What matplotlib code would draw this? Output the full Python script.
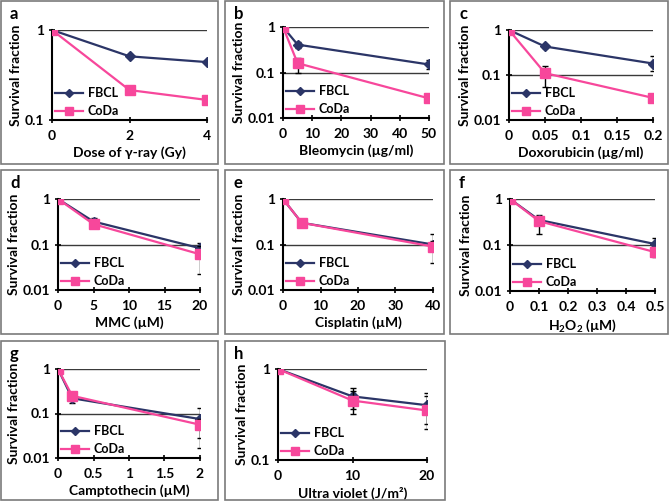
import matplotlib
matplotlib.use("Agg")
import matplotlib.pyplot as plt
from matplotlib.patches import Rectangle
from matplotlib.lines import Line2D
from matplotlib.ticker import FuncFormatter, FixedLocator, NullLocator

plt.rcParams['font.family'] = ['Lato', 'DejaVu Sans']
plt.rcParams['font.weight'] = 'bold'
plt.rcParams['mathtext.fontset'] = 'custom'
plt.rcParams['mathtext.rm'] = 'Lato:bold'
plt.rcParams['mathtext.bf'] = 'Lato:bold'

NAVY = '#2b3567'
PINK = '#f7479b'

# data: x doses, survival fractions, error bars (lower, upper)
panel_labels = ['a', 'b', 'c', 'd', 'e', 'f', 'g', 'h']
xlabels = ['Dose of γ-ray (Gy)', 'Bleomycin (µg/ml)', 'Doxorubicin (µg/ml)',
           'MMC (µM)', 'Cisplatin (µM)', r'H$_{2}$O$_{2}$ (µM)',
           'Camptothecin (µM)', 'Ultra violet (J/m²)']

doses = [[0, 2, 4], [0, 5, 50], [0, 0.05, 0.2], [0, 5, 20],
         [0, 5, 40], [0, 0.1, 0.5], [0, 0.2, 2], [0, 10, 20]]
xticks = [[0, 2, 4], [0, 10, 20, 30, 40, 50], [0, 0.05, 0.1, 0.15, 0.2],
          [0, 5, 10, 15, 20], [0, 10, 20, 30, 40], [0, 0.1, 0.2, 0.3, 0.4, 0.5],
          [0, 0.5, 1, 1.5, 2], [0, 10, 20]]
ylow = [0.1, 0.01, 0.01, 0.01, 0.01, 0.01, 0.01, 0.1]

fbcl = [[1, 0.51, 0.44], [1, 0.41, 0.15], [1, 0.43, 0.18], [1, 0.32, 0.083],
        [1, 0.30, 0.10], [1, 0.35, 0.105], [1, 0.22, 0.075], [1, 0.50, 0.40]]
fbcl_err_lo = [[0, 0, 0], [0, 0.06, 0.03], [0, 0.04, 0.06], [0, 0.07, 0.015],
               [0, 0.03, 0.02], [0, 0.08, 0.02], [0, 0.05, 0.047], [0, 0.14, 0.15]]
fbcl_err_hi = [[0, 0, 0], [0, 0.06, 0.04], [0, 0.04, 0.08], [0, 0.06, 0.025],
               [0, 0.03, 0.07], [0, 0.10, 0.04], [0, 0.05, 0.055], [0, 0.12, 0.15]]

coda = [[1, 0.215, 0.167], [1, 0.16, 0.027], [1, 0.11, 0.031], [1, 0.28, 0.061],
        [1, 0.30, 0.09], [1, 0.33, 0.07], [1, 0.25, 0.056], [1, 0.45, 0.35]]
coda_err_lo = [[0, 0, 0], [0, 0.06, 0.005], [0, 0.055, 0], [0, 0.04, 0.038],
               [0, 0.02, 0.05], [0, 0.16, 0.015], [0, 0.03, 0.039], [0, 0.13, 0.13]]
coda_err_hi = [[0, 0, 0], [0, 0.05, 0.005], [0, 0.05, 0], [0, 0.05, 0.03],
               [0, 0.02, 0.03], [0, 0.06, 0.01], [0, 0.03, 0.02], [0, 0.12, 0.15]]

W, H = 670, 501
# axes boxes in pixels: left, top, right, bottom
axes_px = [(52, 30, 207, 120), (283, 27, 429, 118), (509, 30, 653, 120),
           (58, 199, 200, 290), (283, 199, 433, 290), (510, 199, 655, 291),
           (58, 369, 200, 458), (278, 369, 427, 460)]
# panel frames in pixels: left, top, right, bottom
frames_px = [(1, 1, 218, 164), (225, 1, 444, 164), (450, 1, 668, 164),
             (1, 170, 218, 334), (225, 170, 444, 334), (450, 170, 668, 334),
             (1, 341, 218, 500), (225, 341, 445, 500)]

fig = plt.figure(figsize=(W / 100, H / 100), dpi=100)

leg_handles = [Line2D([], [], color=NAVY, marker='D', markersize=4.5, lw=1.6),
               Line2D([], [], color=PINK, marker='s', markersize=6, lw=1.6)]

for i in range(8):
    l, t, r, b = frames_px[i]
    fig.patches.append(Rectangle((l / W, 1 - b / H), (r - l) / W, (b - t) / H,
                                 transform=fig.transFigure, fill=False,
                                 edgecolor='#7a7a7a', lw=1.2))
    fig.text((l + 9) / W, 1 - (t + 18) / H, panel_labels[i], fontsize=12,
             fontweight='bold')

    l, t, r, b = axes_px[i]
    ax = fig.add_axes([l / W, 1 - b / H, (r - l) / W, (b - t) / H])
    x = doses[i]
    ax.errorbar(x, fbcl[i], yerr=[fbcl_err_lo[i], fbcl_err_hi[i]], color=NAVY,
                marker='D', markersize=5.5, lw=1.6, ecolor='black', elinewidth=1.0,
                capsize=2.5, capthick=1.0, zorder=3)
    ax.errorbar(x, coda[i], yerr=[coda_err_lo[i], coda_err_hi[i]], color=PINK,
                marker='s', markersize=7.5, lw=1.6, ecolor='black', elinewidth=1.0,
                capsize=2.5, capthick=1.0, zorder=4)
    ax.set_yscale('log')
    ax.set_ylim(ylow[i], 1)
    ax.set_xlim(0, x[-1])
    decades = [v for v in [0.01, 0.1, 1] if v >= ylow[i]]
    ax.yaxis.set_major_locator(FixedLocator(decades))
    ax.yaxis.set_minor_locator(NullLocator())
    ax.yaxis.set_major_formatter(FuncFormatter(lambda v, p: '%g' % v))
    ax.set_xticks(xticks[i])
    ax.xaxis.set_major_formatter(FuncFormatter(lambda v, p: '%g' % v))
    for v in decades[1:]:
        ax.axhline(v, color='#3a3a3a', lw=1.0, zorder=1)
    for s in ['top', 'right']:
        ax.spines[s].set_visible(False)
    for s in ['left', 'bottom']:
        ax.spines[s].set_linewidth(1.5)
    ax.spines['left'].set_zorder(2)
    ax.tick_params(direction='inout', length=5, width=1.2, labelsize=10, pad=3)
    ax.tick_params(axis='x', pad=5)
    ax.set_xlabel(xlabels[i], fontsize=10, fontweight='bold', labelpad=3)
    ax.set_ylabel('Survival fraction', fontsize=10, fontweight='bold', labelpad=2)
    for lab in ax.get_xticklabels() + ax.get_yticklabels():
        lab.set_fontweight('bold')
    ax.legend(leg_handles, ['FBCL', 'CoDa'], loc='lower left',
              bbox_to_anchor=(0.0, 0.0), frameon=False, borderpad=0,
              fontsize=9, handlelength=2.2, handletextpad=0.4, labelspacing=0.45,
              borderaxespad=0.25)

plt.savefig('out.png', dpi=100)
